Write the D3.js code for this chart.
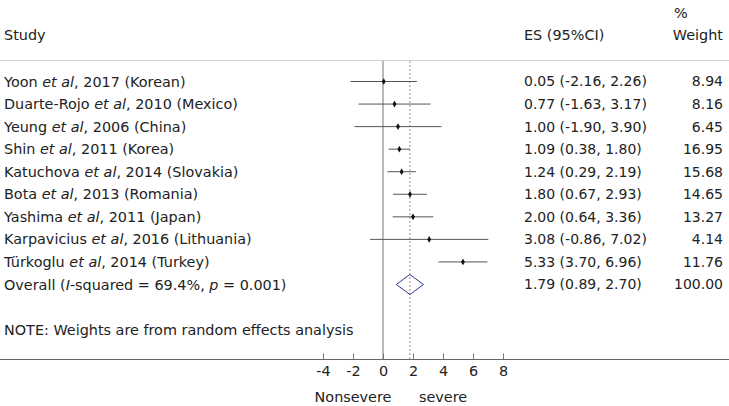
<!DOCTYPE html>
<html><head><meta charset="utf-8">
<script src="https://cdn.jsdelivr.net/npm/d3@7/dist/d3.min.js"></script>
<style>
body{margin:0;background:#fff;}
svg text{font-family:"DejaVu Sans",Verdana,sans-serif;font-size:14.4px;fill:#222;}
svg text.num{font-size:14px;}
</style></head>
<body>
<svg id="chart" width="729" height="406"></svg>
<script>
const authors = ["Yoon","Duarte-Rojo","Yeung","Shin","Katuchova","Bota","Yashima","Karpavicius","Türkoglu"];
const suffixes = [", 2017 (Korean)",", 2010 (Mexico)",", 2006 (China)",", 2011 (Korea)",", 2014 (Slovakia)",", 2013 (Romania)",", 2011 (Japan)",", 2016 (Lithuania)",", 2014 (Turkey)"];
const es = [0.05,0.77,1.00,1.09,1.24,1.80,2.00,3.08,5.33];
const lo = [-2.16,-1.63,-1.90,0.38,0.29,0.67,0.64,-0.86,3.70];
const hi = [2.26,3.17,3.90,1.80,2.19,2.93,3.36,7.02,6.96];
const weights = [8.94,8.16,6.45,16.95,15.68,14.65,13.27,4.14,11.76];
const overall = {es:1.79, lo:0.89, hi:2.70, weight:100.00};
const tickValues = [-4,-2,0,2,4,6,8];

const svg = d3.select("#chart");
const W = 729;
const x = d3.scaleLinear().domain([0,2]).range([383,413]);
const rowY = d3.scaleLinear().domain([0,9]).range([81.5,284.5]);
const f2 = v => d3.format(".2f")(v).replace("\u2212","-");
const axisY = 359.5;

// header
svg.append("text").attr("x",4).attr("y",35).attr("dy","0.35em").text("Study");
svg.append("text").attr("x",524).attr("y",35).attr("dy","0.35em").text("ES (95%CI)");
svg.append("text").attr("x",674).attr("y",13).attr("dy","0.35em").text("%");
svg.append("text").attr("x",723).attr("y",35).attr("dy","0.35em").attr("text-anchor","end").text("Weight");
svg.append("line").attr("x1",0).attr("x2",W).attr("y1",60.5).attr("y2",60.5).attr("stroke","#cfcfcf").attr("stroke-width",1);

// zero line
svg.append("line").attr("x1",x(0)).attr("x2",x(0)).attr("y1",61).attr("y2",axisY).attr("stroke","#8a8a8a").attr("stroke-width",1.2);
// overall dashed line
svg.append("line").attr("x1",x(overall.es)).attr("x2",x(overall.es)).attr("y1",61).attr("y2",axisY)
  .attr("stroke","#c07a86").attr("stroke-width",1).attr("stroke-dasharray","2,2");

// rows
authors.forEach((a,i)=>{
  const y = rowY(i);
  const t = svg.append("text").attr("x",4).attr("y",y).attr("dy","0.35em");
  t.append("tspan").text(a+" ");
  t.append("tspan").attr("font-style","italic").text("et al");
  t.append("tspan").text(suffixes[i]);
  svg.append("line").attr("x1",x(lo[i])).attr("x2",x(hi[i])).attr("y1",y).attr("y2",y).attr("stroke","#555").attr("stroke-width",1);
  svg.append("path").attr("d",d3.symbol(d3.symbolDiamond,13)()).attr("transform",`translate(${x(es[i])},${y})`).attr("fill","#111");
  svg.append("text").attr("class","num").attr("x",524).attr("y",y).attr("dy","0.35em").text(`${f2(es[i])} (${f2(lo[i])}, ${f2(hi[i])})`);
  svg.append("text").attr("class","num").attr("x",723).attr("y",y).attr("dy","0.35em").attr("text-anchor","end").text(f2(weights[i]));
});

// overall
const yo = rowY(9);
const to = svg.append("text").attr("x",4).attr("y",yo).attr("dy","0.35em");
to.append("tspan").text("Overall (");
to.append("tspan").attr("font-style","italic").text("I");
to.append("tspan").text("-squared = 69.4%, ");
to.append("tspan").attr("font-style","italic").text("p");
to.append("tspan").text(" = 0.001)");
svg.append("path").attr("d",`M${x(overall.lo)},${yo} L${x(overall.es)},${yo-10} L${x(overall.hi)},${yo} L${x(overall.es)},${yo+10} Z`)
  .attr("fill","none").attr("stroke","#2c3a8c").attr("stroke-width",1);
svg.append("text").attr("class","num").attr("x",524).attr("y",yo).attr("dy","0.35em").text(`${f2(overall.es)} (${f2(overall.lo)}, ${f2(overall.hi)})`);
svg.append("text").attr("class","num").attr("x",723).attr("y",yo).attr("dy","0.35em").attr("text-anchor","end").text(f2(overall.weight));

svg.append("text").attr("x",4).attr("y",330).attr("dy","0.35em").text("NOTE: Weights are from random effects analysis");

// axis
svg.append("line").attr("x1",0).attr("x2",W).attr("y1",axisY).attr("y2",axisY).attr("stroke","#666").attr("stroke-width",1.2);
const axis = d3.axisBottom(x).tickValues(tickValues).tickSize(-6).tickPadding(8).tickFormat(d => String(d));
const g = svg.append("g").attr("transform",`translate(0,${axisY})`).call(axis);
g.select(".domain").remove();
g.selectAll(".tick line").attr("stroke","#777");
g.selectAll(".tick text").attr("font-size","14.4px").attr("font-family","DejaVu Sans, Verdana, sans-serif").attr("fill","#222").attr("y",6);
svg.append("text").attr("x",x(-2)).attr("y",396.5).attr("dy","0.35em").attr("text-anchor","middle").text("Nonsevere");
svg.append("text").attr("x",x(4)).attr("y",396.5).attr("dy","0.35em").attr("text-anchor","middle").text("severe");
</script>
</body></html>
